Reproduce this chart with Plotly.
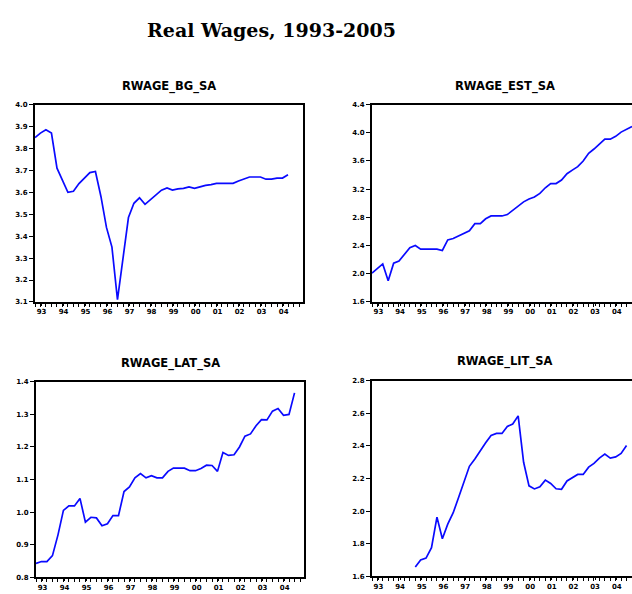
import pandas as pd
import plotly.graph_objects as go

# ---------------- data (quarterly) ----------------
bg_start = "1993Q1"
rwage_bg = [3.85, 3.87, 3.885, 3.87, 3.71, 3.655, 3.60, 3.605, 3.64, 3.665, 3.69, 3.695,
            3.58, 3.44, 3.35, 3.11, 3.30, 3.485, 3.55, 3.575, 3.545, 3.565, 3.587, 3.61,
            3.62, 3.61, 3.616, 3.618, 3.625, 3.618, 3.625, 3.632, 3.635, 3.641, 3.641, 3.641,
            3.641, 3.652, 3.66, 3.67, 3.67, 3.67, 3.66, 3.66, 3.665, 3.665, 3.68]

est_start = "1993Q1"
rwage_est = [2.01, 2.08, 2.14, 1.90, 2.15, 2.18, 2.27, 2.37, 2.40, 2.35, 2.35, 2.35,
             2.35, 2.33, 2.48, 2.50, 2.54, 2.58, 2.61, 2.71, 2.71, 2.78, 2.82, 2.82,
             2.82, 2.84, 2.90, 2.97, 3.02, 3.06, 3.09, 3.14, 3.22, 3.28, 3.28, 3.33,
             3.42, 3.47, 3.52, 3.60, 3.71, 3.77, 3.84, 3.91, 3.91, 3.95, 4.01, 4.05, 4.09]

lat_start = "1993Q1"
rwage_lat = [0.842, 0.848, 0.848, 0.866, 0.93, 1.005, 1.019, 1.019, 1.042, 0.969, 0.984, 0.982,
             0.958, 0.964, 0.989, 0.989, 1.063, 1.077, 1.105, 1.118, 1.105, 1.112, 1.105, 1.105,
             1.125, 1.135, 1.135, 1.135, 1.127, 1.127, 1.134, 1.144, 1.143, 1.125, 1.183, 1.174,
             1.176, 1.20, 1.233, 1.24, 1.265, 1.284, 1.283, 1.31, 1.318, 1.297, 1.30, 1.366]

lit_start = "1995Q1"
rwage_lit = [1.656, 1.70, 1.711, 1.775, 1.963, 1.83, 1.92, 1.99, 2.085, 2.18, 2.275, 2.32,
             2.375, 2.42, 2.465, 2.477, 2.477, 2.52, 2.535, 2.585, 2.30, 2.155, 2.136, 2.149,
             2.19, 2.17, 2.137, 2.134, 2.185, 2.207, 2.225, 2.225, 2.27, 2.293, 2.325, 2.35,
             2.325, 2.333, 2.354, 2.403]

panel_titles = ["RWAGE_BG_SA", "RWAGE_EST_SA", "RWAGE_LAT_SA", "RWAGE_LIT_SA"]
year_labels = ["93", "94", "95", "96", "97", "98", "99", "00", "01", "02", "03", "04"]
years = list(range(1993, 2005))

bg_ticks = [3.1, 3.2, 3.3, 3.4, 3.5, 3.6, 3.7, 3.8, 3.9, 4.0]
est_ticks = [1.6, 2.0, 2.4, 2.8, 3.2, 3.6, 4.0, 4.4]
lat_ticks = [0.8, 0.9, 1.0, 1.1, 1.2, 1.3, 1.4]
lit_ticks = [1.6, 1.8, 2.0, 2.2, 2.4, 2.6, 2.8]

main_title = "Real Wages, 1993-2005"

# ---------------- figure ----------------
W, H = 632, 594


def qdates(start, n):
    return pd.period_range(start, periods=n, freq="Q").to_timestamp()


series = [
    (rwage_bg, bg_start, bg_ticks),
    (rwage_est, est_start, est_ticks),
    (rwage_lat, lat_start, lat_ticks),
    (rwage_lit, lit_start, lit_ticks),
]

# pixel boxes: left, right, top, bottom
boxes = [(35, 303, 102, 302), (372, 632, 102, 302), (36, 304, 383, 581), (372, 632, 382, 580)]
xranges = [("1993-01-01", "2005-03-07"), ("1993-01-01", "2005-01-01"),
           ("1993-01-01", "2005-03-07"), ("1993-01-01", "2005-01-01")]
title_y = [84, 84, 364, 362]

fig = go.Figure()
quarter_ticks = pd.period_range("1993Q1", "2005Q1", freq="Q").to_timestamp()
label_pos = [pd.Timestamp(f"{y}-04-20") for y in years]

tickfont = dict(family="DejaVu Sans", size=7, color="black", weight="bold")

for k, ((vals, start, yt), box, xr, ty, ttl) in enumerate(zip(series, boxes, xranges, title_y, panel_titles)):
    idx = "" if k == 0 else str(k + 1)
    l, r, t, b = box
    fig.add_trace(go.Scatter(
        x=qdates(start, len(vals)), y=vals, mode="lines",
        line=dict(color="#0a0aff", width=1.7),
        xaxis="x" + idx, yaxis="y" + idx, showlegend=False, hoverinfo="skip"))
    right_panel = k in (1, 3)
    fig.layout["xaxis" + idx] = dict(
        domain=[l / W, min(r / W, 1.0)], anchor="y" + idx, type="date",
        range=list(xr), tickmode="array", tickvals=label_pos, ticktext=year_labels,
        ticks="outside", ticklen=2, tickwidth=1, tickcolor="black",
        minor=dict(tickmode="array", tickvals=list(quarter_ticks), ticks="outside",
                   ticklen=3, tickwidth=1, tickcolor="black"),
        showline=True, linecolor="black", linewidth=2, mirror=True,
        showgrid=False, zeroline=False, tickfont=tickfont, ticklabelstandoff=0)
    fig.layout["yaxis" + idx] = dict(
        domain=[1 - b / H, 1 - t / H], anchor="x" + idx,
        range=[yt[0], yt[-1]], tickmode="array", tickvals=yt,
        ticktext=[f"{v:.1f}" for v in yt],
        ticks="outside", ticklen=4, tickwidth=1, tickcolor="black",
        showline=True, linecolor="black", linewidth=2, mirror=not right_panel,
        showgrid=False, zeroline=False, tickfont=tickfont)
    fig.add_annotation(x=((l + r) / 2 if not right_panel else (l + 637) / 2) / W,
                       y=1 - ty / H, xref="paper", yref="paper",
                       text=ttl, showarrow=False, xanchor="center", yanchor="middle",
                       font=dict(family="DejaVu Sans", size=11.5, color="black", weight="bold"))

fig.add_annotation(x=271 / W, y=1 - 26 / H, xref="paper", yref="paper", text=main_title,
                   showarrow=False, xanchor="center", yanchor="middle",
                   font=dict(family="DejaVu Serif", size=19, color="black", weight="bold"))

fig.update_layout(width=W, height=H, margin=dict(l=0, r=0, t=0, b=0),
                  paper_bgcolor="white", plot_bgcolor="white")

fig.write_html("out.html",
               config={"displayModeBar": False},
               post_script="document.body.style.margin='0';"
                           "document.body.style.overflow='hidden';"
                           "document.documentElement.style.overflow='hidden';")
